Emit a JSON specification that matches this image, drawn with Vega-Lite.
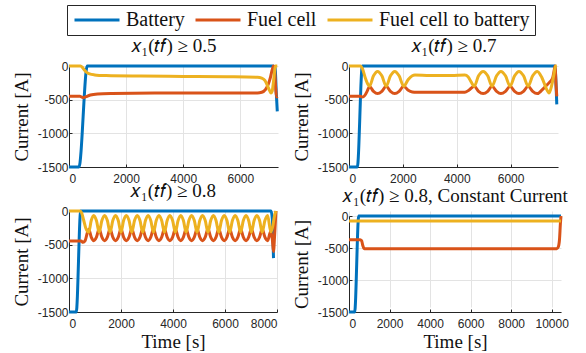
{
  "$schema": "https://vega.github.io/schema/vega-lite/v6.json",
  "padding": {"left": 12, "top": 4, "right": 0, "bottom": 0},
  "background": "white",
  "config": {
    "font": "Liberation Serif",
    "view": {"stroke": null},
    "axis": {
      "domainColor": "#262626", "domainWidth": 1,
      "gridColor": "#e3e3e3", "gridWidth": 1,
      "tickColor": "#262626", "tickSize": -3,
      "labelFont": "Liberation Sans", "labelFontSize": 12, "labelColor": "#262626",
      "titleFont": "Liberation Serif", "titleFontSize": 19, "titleFontWeight": "normal", "titleColor": "#111111",
      "titlePadding": 6
    },
    "axisX": {"labelPadding": 9},
    "axisY": {"labelPadding": 4},
    "title": {"font": "Liberation Serif", "fontSize": 19, "fontWeight": "normal", "color": "#111111", "offset": 0},
    "legend": {"orient": "none", "legendX": -2, "legendY": -61, "direction": "horizontal", "title": null, "symbolType": "M-1,0H5", "symbolSize": 225, "symbolOffset": 0, "symbolStrokeWidth": 3, "labelFont": "Liberation Serif", "labelFontSize": 20, "labelColor": "#111111", "labelOffset": 34, "columnPadding": 4, "padding": 5, "strokeColor": "#262626", "fillColor": "white", "labelLimit": 0},
    "line": {"strokeWidth": 3, "interpolate": "monotone"}
  },
  "datasets": {
    "a": [
      {"s":"Battery","t":0,"I":-1500},{"s":"Battery","t":350,"I":-1500},{"s":"Battery","t":640,"I":0},{"s":"Battery","t":7150,"I":0},{"s":"Battery","t":7220,"I":-30},{"s":"Battery","t":7260,"I":-400},{"s":"Battery","t":7295,"I":-675},
      {"s":"Fuel cell","t":0,"I":-450},{"s":"Fuel cell","t":380,"I":-450},{"s":"Fuel cell","t":450,"I":-462},{"s":"Fuel cell","t":520,"I":-470},{"s":"Fuel cell","t":600,"I":-455},{"s":"Fuel cell","t":750,"I":-430},{"s":"Fuel cell","t":1000,"I":-415},{"s":"Fuel cell","t":1500,"I":-408},{"s":"Fuel cell","t":3000,"I":-402},{"s":"Fuel cell","t":5000,"I":-400},{"s":"Fuel cell","t":6600,"I":-400},{"s":"Fuel cell","t":6750,"I":-390},{"s":"Fuel cell","t":6880,"I":-350},{"s":"Fuel cell","t":6980,"I":-270},{"s":"Fuel cell","t":7060,"I":-160},{"s":"Fuel cell","t":7120,"I":-50},{"s":"Fuel cell","t":7160,"I":0},{"s":"Fuel cell","t":7200,"I":-60},{"s":"Fuel cell","t":7240,"I":-330},{"s":"Fuel cell","t":7270,"I":-460},{"s":"Fuel cell","t":7295,"I":-450},
      {"s":"Fuel cell to battery","t":0,"I":0},{"s":"Fuel cell to battery","t":400,"I":0},{"s":"Fuel cell to battery","t":470,"I":-20},{"s":"Fuel cell to battery","t":540,"I":-60},{"s":"Fuel cell to battery","t":620,"I":-95},{"s":"Fuel cell to battery","t":720,"I":-118},{"s":"Fuel cell to battery","t":900,"I":-132},{"s":"Fuel cell to battery","t":1300,"I":-142},{"s":"Fuel cell to battery","t":2500,"I":-150},{"s":"Fuel cell to battery","t":4000,"I":-155},{"s":"Fuel cell to battery","t":5500,"I":-160},{"s":"Fuel cell to battery","t":6600,"I":-167},{"s":"Fuel cell to battery","t":6750,"I":-180},{"s":"Fuel cell to battery","t":6860,"I":-215},{"s":"Fuel cell to battery","t":6950,"I":-290},{"s":"Fuel cell to battery","t":7030,"I":-370},{"s":"Fuel cell to battery","t":7075,"I":-400},{"s":"Fuel cell to battery","t":7115,"I":-375},{"s":"Fuel cell to battery","t":7160,"I":-240},{"s":"Fuel cell to battery","t":7200,"I":-80},{"s":"Fuel cell to battery","t":7230,"I":0},{"s":"Fuel cell to battery","t":7295,"I":0}
    ],
    "b": [
      {"s":"Battery","t":0,"I":-1500},{"s":"Battery","t":310,"I":-1500},{"s":"Battery","t":495,"I":0},{"s":"Battery","t":7640,"I":0},{"s":"Battery","t":7680,"I":-200},{"s":"Battery","t":7715,"I":-570},
      {"s":"Fuel cell","t":0,"I":-450},{"s":"Fuel cell","t":420,"I":-450},{"s":"Fuel cell","t":500,"I":-460},{"s":"Fuel cell","t":580,"I":-440},{"s":"Fuel cell","t":680,"I":-370},{"s":"Fuel cell","t":760,"I":-305},{"s":"Fuel cell","t":910,"I":-377},{"s":"Fuel cell","t":1060,"I":-410},{"s":"Fuel cell","t":1220,"I":-377},{"s":"Fuel cell","t":1380,"I":-300},{"s":"Fuel cell","t":1540,"I":-377},{"s":"Fuel cell","t":1700,"I":-410},{"s":"Fuel cell","t":1860,"I":-377},{"s":"Fuel cell","t":2030,"I":-300},{"s":"Fuel cell","t":2200,"I":-360},{"s":"Fuel cell","t":2350,"I":-385},{"s":"Fuel cell","t":2500,"I":-390},{"s":"Fuel cell","t":4300,"I":-390},{"s":"Fuel cell","t":4450,"I":-360},{"s":"Fuel cell","t":4650,"I":-300},{"s":"Fuel cell","t":4810,"I":-377},{"s":"Fuel cell","t":4980,"I":-410},{"s":"Fuel cell","t":5150,"I":-377},{"s":"Fuel cell","t":5310,"I":-300},{"s":"Fuel cell","t":5480,"I":-377},{"s":"Fuel cell","t":5640,"I":-410},{"s":"Fuel cell","t":5810,"I":-377},{"s":"Fuel cell","t":5980,"I":-300},{"s":"Fuel cell","t":6150,"I":-377},{"s":"Fuel cell","t":6310,"I":-410},{"s":"Fuel cell","t":6480,"I":-377},{"s":"Fuel cell","t":6650,"I":-300},{"s":"Fuel cell","t":6820,"I":-377},{"s":"Fuel cell","t":6990,"I":-410},{"s":"Fuel cell","t":7160,"I":-360},{"s":"Fuel cell","t":7330,"I":-290},{"s":"Fuel cell","t":7450,"I":-240},{"s":"Fuel cell","t":7560,"I":-180},{"s":"Fuel cell","t":7620,"I":-60},{"s":"Fuel cell","t":7650,"I":0},{"s":"Fuel cell","t":7690,"I":-300},{"s":"Fuel cell","t":7715,"I":-450},
      {"s":"Fuel cell to battery","t":0,"I":0},{"s":"Fuel cell to battery","t":430,"I":0},{"s":"Fuel cell to battery","t":500,"I":-40},{"s":"Fuel cell to battery","t":600,"I":-170},{"s":"Fuel cell to battery","t":700,"I":-270},{"s":"Fuel cell to battery","t":760,"I":-300},{"s":"Fuel cell to battery","t":910,"I":-146},{"s":"Fuel cell to battery","t":1060,"I":-80},{"s":"Fuel cell to battery","t":1220,"I":-146},{"s":"Fuel cell to battery","t":1380,"I":-300},{"s":"Fuel cell to battery","t":1540,"I":-146},{"s":"Fuel cell to battery","t":1700,"I":-80},{"s":"Fuel cell to battery","t":1860,"I":-146},{"s":"Fuel cell to battery","t":2030,"I":-300},{"s":"Fuel cell to battery","t":2200,"I":-200},{"s":"Fuel cell to battery","t":2350,"I":-145},{"s":"Fuel cell to battery","t":2450,"I":-135},{"s":"Fuel cell to battery","t":3000,"I":-140},{"s":"Fuel cell to battery","t":3800,"I":-140},{"s":"Fuel cell to battery","t":4300,"I":-135},{"s":"Fuel cell to battery","t":4420,"I":-160},{"s":"Fuel cell to battery","t":4540,"I":-240},{"s":"Fuel cell to battery","t":4650,"I":-300},{"s":"Fuel cell to battery","t":4810,"I":-146},{"s":"Fuel cell to battery","t":4980,"I":-80},{"s":"Fuel cell to battery","t":5150,"I":-146},{"s":"Fuel cell to battery","t":5310,"I":-300},{"s":"Fuel cell to battery","t":5480,"I":-146},{"s":"Fuel cell to battery","t":5640,"I":-80},{"s":"Fuel cell to battery","t":5810,"I":-146},{"s":"Fuel cell to battery","t":5980,"I":-300},{"s":"Fuel cell to battery","t":6150,"I":-146},{"s":"Fuel cell to battery","t":6310,"I":-80},{"s":"Fuel cell to battery","t":6480,"I":-146},{"s":"Fuel cell to battery","t":6650,"I":-300},{"s":"Fuel cell to battery","t":6820,"I":-146},{"s":"Fuel cell to battery","t":6990,"I":-80},{"s":"Fuel cell to battery","t":7160,"I":-170},{"s":"Fuel cell to battery","t":7330,"I":-340},{"s":"Fuel cell to battery","t":7430,"I":-400},{"s":"Fuel cell to battery","t":7530,"I":-280},{"s":"Fuel cell to battery","t":7620,"I":-100},{"s":"Fuel cell to battery","t":7670,"I":0},{"s":"Fuel cell to battery","t":7715,"I":0}
    ],
    "c": [
      {"s":"Battery","t":0,"I":-1500},{"s":"Battery","t":280,"I":-1500},{"s":"Battery","t":450,"I":0},{"s":"Battery","t":7770,"I":0},{"s":"Battery","t":7820,"I":-120},{"s":"Battery","t":7865,"I":-700},
      {"s":"Fuel cell","t":0,"I":-445},{"s":"Fuel cell","t":470,"I":-445},{"s":"Fuel cell","t":540,"I":-465},{"s":"Fuel cell","t":620,"I":-440},{"s":"Fuel cell","t":700,"I":-330},{"s":"Fuel cell","t":760,"I":-270},{"s":"Fuel cell","t":855,"I":-388},{"s":"Fuel cell","t":950,"I":-440},{"s":"Fuel cell","t":1055,"I":-388},{"s":"Fuel cell","t":1160,"I":-266},{"s":"Fuel cell","t":1265,"I":-388},{"s":"Fuel cell","t":1370,"I":-440},{"s":"Fuel cell","t":1475,"I":-388},{"s":"Fuel cell","t":1580,"I":-266},{"s":"Fuel cell","t":1685,"I":-388},{"s":"Fuel cell","t":1790,"I":-440},{"s":"Fuel cell","t":1895,"I":-388},{"s":"Fuel cell","t":2000,"I":-266},{"s":"Fuel cell","t":2100,"I":-388},{"s":"Fuel cell","t":2205,"I":-440},{"s":"Fuel cell","t":2310,"I":-388},{"s":"Fuel cell","t":2415,"I":-266},{"s":"Fuel cell","t":2520,"I":-388},{"s":"Fuel cell","t":2625,"I":-440},{"s":"Fuel cell","t":2730,"I":-388},{"s":"Fuel cell","t":2835,"I":-266},{"s":"Fuel cell","t":2940,"I":-388},{"s":"Fuel cell","t":3045,"I":-440},{"s":"Fuel cell","t":3145,"I":-388},{"s":"Fuel cell","t":3250,"I":-266},{"s":"Fuel cell","t":3355,"I":-388},{"s":"Fuel cell","t":3460,"I":-440},{"s":"Fuel cell","t":3565,"I":-388},{"s":"Fuel cell","t":3670,"I":-266},{"s":"Fuel cell","t":3775,"I":-388},{"s":"Fuel cell","t":3880,"I":-440},{"s":"Fuel cell","t":3985,"I":-388},{"s":"Fuel cell","t":4090,"I":-266},{"s":"Fuel cell","t":4195,"I":-388},{"s":"Fuel cell","t":4300,"I":-440},{"s":"Fuel cell","t":4400,"I":-388},{"s":"Fuel cell","t":4505,"I":-266},{"s":"Fuel cell","t":4610,"I":-388},{"s":"Fuel cell","t":4715,"I":-440},{"s":"Fuel cell","t":4820,"I":-388},{"s":"Fuel cell","t":4925,"I":-266},{"s":"Fuel cell","t":5030,"I":-388},{"s":"Fuel cell","t":5135,"I":-440},{"s":"Fuel cell","t":5240,"I":-388},{"s":"Fuel cell","t":5345,"I":-266},{"s":"Fuel cell","t":5450,"I":-388},{"s":"Fuel cell","t":5555,"I":-440},{"s":"Fuel cell","t":5655,"I":-388},{"s":"Fuel cell","t":5760,"I":-266},{"s":"Fuel cell","t":5865,"I":-388},{"s":"Fuel cell","t":5970,"I":-440},{"s":"Fuel cell","t":6075,"I":-388},{"s":"Fuel cell","t":6180,"I":-266},{"s":"Fuel cell","t":6285,"I":-388},{"s":"Fuel cell","t":6390,"I":-440},{"s":"Fuel cell","t":6495,"I":-388},{"s":"Fuel cell","t":6600,"I":-266},{"s":"Fuel cell","t":6705,"I":-388},{"s":"Fuel cell","t":6810,"I":-440},{"s":"Fuel cell","t":6910,"I":-388},{"s":"Fuel cell","t":7015,"I":-266},{"s":"Fuel cell","t":7120,"I":-388},{"s":"Fuel cell","t":7225,"I":-440},{"s":"Fuel cell","t":7330,"I":-388},{"s":"Fuel cell","t":7430,"I":-266},{"s":"Fuel cell","t":7535,"I":-388},{"s":"Fuel cell","t":7640,"I":-440},{"s":"Fuel cell","t":7760,"I":-300},{"s":"Fuel cell","t":7820,"I":-420},{"s":"Fuel cell","t":7865,"I":-600},{"s":"Fuel cell","t":7910,"I":-350},{"s":"Fuel cell","t":7960,"I":0},
      {"s":"Fuel cell to battery","t":0,"I":0},{"s":"Fuel cell to battery","t":420,"I":0},{"s":"Fuel cell to battery","t":490,"I":-30},{"s":"Fuel cell to battery","t":560,"I":-130},{"s":"Fuel cell to battery","t":650,"I":-260},{"s":"Fuel cell to battery","t":760,"I":-315},{"s":"Fuel cell to battery","t":855,"I":-141},{"s":"Fuel cell to battery","t":950,"I":-66},{"s":"Fuel cell to battery","t":1055,"I":-141},{"s":"Fuel cell to battery","t":1160,"I":-315},{"s":"Fuel cell to battery","t":1265,"I":-141},{"s":"Fuel cell to battery","t":1370,"I":-66},{"s":"Fuel cell to battery","t":1475,"I":-141},{"s":"Fuel cell to battery","t":1580,"I":-315},{"s":"Fuel cell to battery","t":1685,"I":-141},{"s":"Fuel cell to battery","t":1790,"I":-66},{"s":"Fuel cell to battery","t":1895,"I":-141},{"s":"Fuel cell to battery","t":2000,"I":-315},{"s":"Fuel cell to battery","t":2100,"I":-141},{"s":"Fuel cell to battery","t":2205,"I":-66},{"s":"Fuel cell to battery","t":2310,"I":-141},{"s":"Fuel cell to battery","t":2415,"I":-315},{"s":"Fuel cell to battery","t":2520,"I":-141},{"s":"Fuel cell to battery","t":2625,"I":-66},{"s":"Fuel cell to battery","t":2730,"I":-141},{"s":"Fuel cell to battery","t":2835,"I":-315},{"s":"Fuel cell to battery","t":2940,"I":-141},{"s":"Fuel cell to battery","t":3045,"I":-66},{"s":"Fuel cell to battery","t":3145,"I":-141},{"s":"Fuel cell to battery","t":3250,"I":-315},{"s":"Fuel cell to battery","t":3355,"I":-141},{"s":"Fuel cell to battery","t":3460,"I":-66},{"s":"Fuel cell to battery","t":3565,"I":-141},{"s":"Fuel cell to battery","t":3670,"I":-315},{"s":"Fuel cell to battery","t":3775,"I":-141},{"s":"Fuel cell to battery","t":3880,"I":-66},{"s":"Fuel cell to battery","t":3985,"I":-141},{"s":"Fuel cell to battery","t":4090,"I":-315},{"s":"Fuel cell to battery","t":4195,"I":-141},{"s":"Fuel cell to battery","t":4300,"I":-66},{"s":"Fuel cell to battery","t":4400,"I":-141},{"s":"Fuel cell to battery","t":4505,"I":-315},{"s":"Fuel cell to battery","t":4610,"I":-141},{"s":"Fuel cell to battery","t":4715,"I":-66},{"s":"Fuel cell to battery","t":4820,"I":-141},{"s":"Fuel cell to battery","t":4925,"I":-315},{"s":"Fuel cell to battery","t":5030,"I":-141},{"s":"Fuel cell to battery","t":5135,"I":-66},{"s":"Fuel cell to battery","t":5240,"I":-141},{"s":"Fuel cell to battery","t":5345,"I":-315},{"s":"Fuel cell to battery","t":5450,"I":-141},{"s":"Fuel cell to battery","t":5555,"I":-66},{"s":"Fuel cell to battery","t":5655,"I":-141},{"s":"Fuel cell to battery","t":5760,"I":-315},{"s":"Fuel cell to battery","t":5865,"I":-141},{"s":"Fuel cell to battery","t":5970,"I":-66},{"s":"Fuel cell to battery","t":6075,"I":-141},{"s":"Fuel cell to battery","t":6180,"I":-315},{"s":"Fuel cell to battery","t":6285,"I":-141},{"s":"Fuel cell to battery","t":6390,"I":-66},{"s":"Fuel cell to battery","t":6495,"I":-141},{"s":"Fuel cell to battery","t":6600,"I":-315},{"s":"Fuel cell to battery","t":6705,"I":-141},{"s":"Fuel cell to battery","t":6810,"I":-66},{"s":"Fuel cell to battery","t":6910,"I":-141},{"s":"Fuel cell to battery","t":7015,"I":-315},{"s":"Fuel cell to battery","t":7120,"I":-141},{"s":"Fuel cell to battery","t":7225,"I":-66},{"s":"Fuel cell to battery","t":7330,"I":-141},{"s":"Fuel cell to battery","t":7430,"I":-315},{"s":"Fuel cell to battery","t":7535,"I":-141},{"s":"Fuel cell to battery","t":7640,"I":-66},{"s":"Fuel cell to battery","t":7760,"I":-310},{"s":"Fuel cell to battery","t":7840,"I":-220},{"s":"Fuel cell to battery","t":7910,"I":-60},{"s":"Fuel cell to battery","t":7960,"I":0}
    ],
    "d": [
      {"s":"Battery","t":0,"I":-1500},{"s":"Battery","t":280,"I":-1500},{"s":"Battery","t":480,"I":0},{"s":"Battery","t":10460,"I":0},
      {"s":"Fuel cell","t":0,"I":-370},{"s":"Fuel cell","t":550,"I":-370},{"s":"Fuel cell","t":620,"I":-385},{"s":"Fuel cell","t":680,"I":-460},{"s":"Fuel cell","t":740,"I":-505},{"s":"Fuel cell","t":820,"I":-512},{"s":"Fuel cell","t":10250,"I":-512},{"s":"Fuel cell","t":10330,"I":-480},{"s":"Fuel cell","t":10390,"I":-350},{"s":"Fuel cell","t":10430,"I":-120},{"s":"Fuel cell","t":10460,"I":0},
      {"s":"Fuel cell to battery","t":0,"I":-80},{"s":"Fuel cell to battery","t":10460,"I":-80}
    ]
  },
  "concat": [
    {
      "width": 209, "height": 101,
      "title": {"text": "𝑥₁(𝑡𝑓) ≥ 0.5"},
      "data": {"name": "a"},
      "mark": {"type": "line"},
      "encoding": {
        "x": {"field": "t", "type": "quantitative", "scale": {"domain": [0, 7320], "nice": false, "zero": false}, "axis": {"values": [0, 2000, 4000, 6000], "title": null, "labelExpr": "'' + datum.value"}},
        "y": {"field": "I", "type": "quantitative", "scale": {"domain": [-1500, 0], "nice": false}, "axis": {"values": [0, -500, -1000, -1500], "title": "Current [A]", "labelExpr": "'' + datum.value"}},
        "color": {"field": "s", "type": "nominal", "scale": {"domain": ["Battery", "Fuel cell", "Fuel cell to battery"], "range": ["#0072BD", "#D95319", "#EDB120"]}}
      }
    },
    {
      "width": 209, "height": 101,
      "title": {"text": "𝑥₁(𝑡𝑓) ≥ 0.7"},
      "data": {"name": "b"},
      "mark": {"type": "line"},
      "encoding": {
        "x": {"field": "t", "type": "quantitative", "scale": {"domain": [0, 7760], "nice": false, "zero": false}, "axis": {"values": [0, 2000, 4000, 6000], "title": null, "labelExpr": "'' + datum.value"}},
        "y": {"field": "I", "type": "quantitative", "scale": {"domain": [-1500, 0], "nice": false}, "axis": {"values": [0, -500, -1000, -1500], "title": "Current [A]", "labelExpr": "'' + datum.value"}},
        "color": {"field": "s", "type": "nominal", "scale": {"domain": ["Battery", "Fuel cell", "Fuel cell to battery"], "range": ["#0072BD", "#D95319", "#EDB120"]}}
      }
    },
    {
      "width": 208, "height": 101,
      "title": {"text": "𝑥₁(𝑡𝑓) ≥ 0.8"},
      "data": {"name": "c"},
      "mark": {"type": "line"},
      "encoding": {
        "x": {"field": "t", "type": "quantitative", "scale": {"domain": [0, 8000], "nice": false, "zero": false}, "axis": {"values": [0, 2000, 4000, 6000, 8000], "title": "Time [s]", "titlePadding": 3, "labelExpr": "'' + datum.value"}},
        "y": {"field": "I", "type": "quantitative", "scale": {"domain": [-1500, 0], "nice": false}, "axis": {"values": [0, -500, -1000, -1500], "title": "Current [A]", "labelExpr": "'' + datum.value"}},
        "color": {"field": "s", "type": "nominal", "scale": {"domain": ["Battery", "Fuel cell", "Fuel cell to battery"], "range": ["#0072BD", "#D95319", "#EDB120"]}}
      }
    },
    {
      "width": 212, "height": 101,
      "title": {"text": "𝑥₁(𝑡𝑓) ≥ 0.8, Constant Current"},
      "data": {"name": "d"},
      "mark": {"type": "line"},
      "encoding": {
        "x": {"field": "t", "type": "quantitative", "scale": {"domain": [0, 10460], "nice": false, "zero": false}, "axis": {"values": [0, 2000, 4000, 6000, 8000, 10000], "title": "Time [s]", "titlePadding": 3, "labelExpr": "'' + datum.value"}},
        "y": {"field": "I", "type": "quantitative", "scale": {"domain": [-1500, 0], "nice": false, "range": [101, 5]}, "axis": {"values": [0, -500, -1000, -1500], "title": "Current [A]", "labelExpr": "'' + datum.value"}},
        "color": {"field": "s", "type": "nominal", "scale": {"domain": ["Battery", "Fuel cell", "Fuel cell to battery"], "range": ["#0072BD", "#D95319", "#EDB120"]}}
      }
    }
  ],
  "columns": 2,
  "align": "each",
  "spacing": {"row": -2, "column": 8}
}
